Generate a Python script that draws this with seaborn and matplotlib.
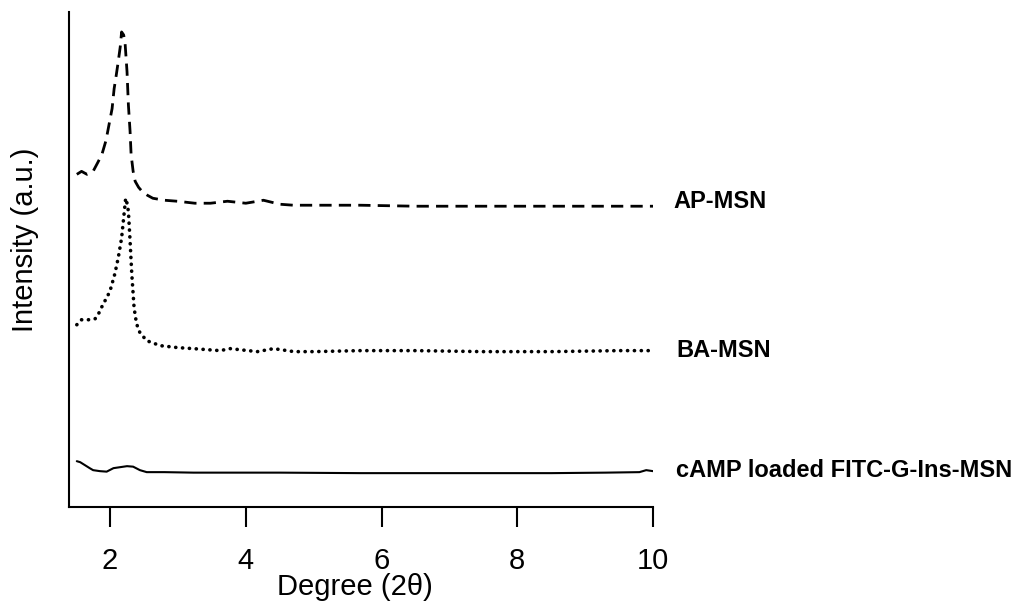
import matplotlib
matplotlib.use("Agg")
import matplotlib.pyplot as plt
import seaborn as sns
import pandas as pd

# Diffraction angle (2θ) and stacked intensity (a.u.) for each sample
ap_x = [1.51, 1.58, 1.66, 1.75, 1.82, 1.88, 1.94, 1.985, 2.03, 2.06, 2.09, 2.12,
        2.15, 2.17, 2.20, 2.22, 2.25, 2.27, 2.295, 2.31, 2.34, 2.37, 2.42, 2.47,
        2.55, 2.63, 2.80, 2.99, 3.25, 3.48, 3.73, 4.00, 4.26, 4.50, 4.70, 5.00,
        5.69, 6.50, 7.50, 8.50, 9.50, 10.00]
ap_y = [334, 337, 334, 337, 346, 354, 368, 384, 400, 420, 433, 447,
        462, 477, 474, 467, 437, 404, 377, 354, 337, 327, 321, 317,
        313, 310, 308, 307, 305, 305, 307, 305, 308, 304, 303, 303,
        303, 302, 302, 302, 302, 302]

ba_x = [1.51, 1.58, 1.68, 1.78, 1.83, 1.90, 1.95, 2.00, 2.07, 2.12, 2.17, 2.20,
        2.23, 2.25, 2.27, 2.295, 2.32, 2.354, 2.39, 2.44, 2.54, 2.74, 3.00, 3.23,
        3.62, 3.77, 4.17, 4.41, 4.71, 5.00, 5.69, 6.50, 7.50, 8.50, 9.50, 10.00]
ba_y = [183, 188, 188, 189, 194, 204, 210, 217, 234, 250, 270, 290,
        310, 305, 297, 267, 234, 200, 184, 175, 167, 162, 160, 159,
        157, 159, 156, 159, 156, 156, 157, 157, 156, 156, 157, 157]

camp_x = [1.51, 1.56, 1.63, 1.70, 1.75, 1.85, 1.95, 2.05, 2.15, 2.25, 2.34, 2.44,
          2.54, 2.80, 3.23, 3.80, 4.50, 5.69, 6.50, 7.50, 8.50, 9.30, 9.80, 9.90,
          10.00]
camp_y = [46, 45, 42, 39, 37, 36, 35.5, 39, 40, 41, 40.5, 37,
          35, 35, 34.5, 34.5, 34.5, 34, 34, 34, 34, 34.5, 35, 37,
          36]

labels = ["AP-MSN", "BA-MSN", "cAMP loaded FITC-G-Ins-MSN"]
label_x = [10.30, 10.34, 10.34]
label_y = [307, 157, 37]

df = pd.concat([
    pd.DataFrame({"angle": ap_x, "intensity": ap_y, "sample": labels[0]}),
    pd.DataFrame({"angle": ba_x, "intensity": ba_y, "sample": labels[1]}),
    pd.DataFrame({"angle": camp_x, "intensity": camp_y, "sample": labels[2]}),
])

sns.set_style("ticks")
plt.rcParams["font.family"] = ["Liberation Sans", "DejaVu Sans"]
plt.rcParams["text.color"] = "black"
plt.rcParams["axes.labelcolor"] = "black"

fig = plt.figure(figsize=(10.16, 6.02), dpi=100)
ax = fig.add_axes([69 / 1016, 1 - 507 / 602, (653 - 69) / 1016, (507 - 12) / 602])

styles = {
    labels[0]: dict(lw=2.0, linestyle=(0, (4.4, 2.6)), dash_capstyle="butt"),
    labels[1]: dict(lw=2.6, linestyle=(0, (0.05, 1.85)), dash_capstyle="round"),
    labels[2]: dict(lw=1.5, linestyle="-"),
}
for name in labels:
    sns.lineplot(data=df[df["sample"] == name], x="angle", y="intensity",
                 ax=ax, color="black", legend=False, **styles[name])

for name, tx, ty in zip(labels, label_x, label_y):
    ax.text(tx, ty, name, fontsize=17, fontweight="bold", va="center",
            ha="left", color="black", clip_on=False)

ax.set_xlim(1.395, 10.0)
ax.set_ylim(0, 497)
ax.set_xticks([2, 4, 6, 8, 10])
ax.set_yticks([])
ax.tick_params(axis="x", direction="out", length=14.5, width=1.5,
               labelsize=21, pad=14, colors="black")
for side in ("top", "right"):
    ax.spines[side].set_visible(False)
for side in ("left", "bottom"):
    ax.spines[side].set_linewidth(1.5)
    ax.spines[side].set_color("black")

ax.set_xlabel("Degree (2θ)", fontsize=21)
ax.set_ylabel("Intensity (a.u.)", fontsize=21)
ax.xaxis.set_label_coords(0.49, -0.133)
ax.yaxis.set_label_coords(-0.052, 0.54)

fig.savefig("out.png", dpi=100, facecolor="white")
